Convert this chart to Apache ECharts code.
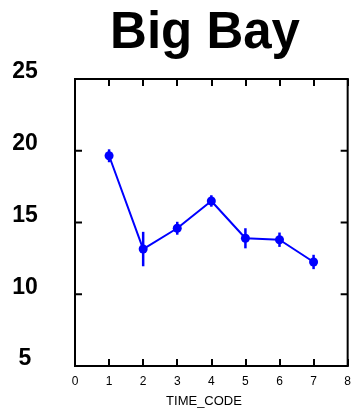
<!DOCTYPE html>
<html>
<head>
<meta charset="utf-8">
<script src="https://cdn.jsdelivr.net/npm/echarts@6/dist/echarts.min.js"></script>
<style>html,body{margin:0;padding:0;background:#fff;}#c{width:354px;height:409px;}</style>
</head>
<body>
<div id="c"></div>
<script>
var titleText = 'Big Bay';
var xName = 'TIME_CODE';
var timeCodes = [1, 2, 3, 4, 5, 6, 7];
var means = [19.65, 13.15, 14.6, 16.5, 13.9, 13.8, 12.25];
var errors = [0.45, 1.2, 0.45, 0.4, 0.7, 0.5, 0.5];
var xTicks = [0, 1, 2, 3, 4, 5, 6, 7, 8];
var yTicks = [5, 10, 15, 20, 25];

var lineData = timeCodes.map(function (t, i) { return [t, means[i]]; });
var errData = timeCodes.map(function (t, i) { return [t, means[i] - errors[i], means[i] + errors[i]]; });
var xMin = xTicks[0], xMax = xTicks[xTicks.length - 1];
var yMin = yTicks[0], yMax = yTicks[yTicks.length - 1];
var yInner = yTicks.slice(1, -1).map(function (v) { return [xMin, v]; });

var chart = echarts.init(document.getElementById('c'), null, { renderer: 'canvas' });
var FONT = 'Liberation Sans, Arial, sans-serif';
var blue = '#0000ff';
var TICK = 7;

chart.setOption({
  animation: false,
  backgroundColor: '#ffffff',
  grid: { left: 75, right: 5, top: 79, bottom: 43, show: true, borderColor: '#000', borderWidth: 2, backgroundColor: 'transparent' },
  graphic: [
    { type: 'text', x: 205, y: 34, style: { text: titleText, fontFamily: FONT, fontWeight: 'bold', fontSize: 51, fill: '#000', textAlign: 'center', textVerticalAlign: 'middle' } },
    { type: 'text', x: 204, y: 401, style: { text: xName, fontFamily: FONT, fontSize: 13, fill: '#000', textAlign: 'center', textVerticalAlign: 'middle' } }
  ],
  xAxis: [
    { type: 'value', min: xMin, max: xMax, interval: 1, position: 'bottom',
      axisLine: { show: true, lineStyle: { color: '#000', width: 2 } },
      axisTick: { show: true, inside: true, length: TICK, lineStyle: { color: '#000', width: 2 } },
      axisLabel: { show: true, margin: 10, fontFamily: FONT, fontSize: 12, color: '#000' },
      splitLine: { show: false } },
    { type: 'value', min: xMin, max: xMax, interval: 1, position: 'top',
      axisLine: { show: true, lineStyle: { color: '#000', width: 2 } },
      axisTick: { show: true, inside: true, length: TICK, lineStyle: { color: '#000', width: 2 } },
      axisLabel: { show: false }, splitLine: { show: false } }
  ],
  yAxis: [
    { type: 'value', min: yMin, max: yMax, interval: 5, position: 'left',
      axisLine: { show: true, lineStyle: { color: '#000', width: 2 } },
      axisTick: { show: false },
      axisLabel: { show: true, margin: 50, align: 'center', verticalAlign: 'bottom', lineHeight: 14, fontFamily: FONT, fontWeight: 'bold', fontSize: 23, color: '#000' },
      splitLine: { show: false } }
  ],
  series: [
    { type: 'custom', xAxisIndex: 0, yAxisIndex: 0, data: yInner, z: 2, silent: true,
      renderItem: function (params, api) {
        var v = api.value(1);
        var l = api.coord([xMin, v]);
        var r = api.coord([xMax, v]);
        return { type: 'group', children: [
          { type: 'line', shape: { x1: l[0], y1: l[1], x2: l[0] + TICK, y2: l[1] }, style: { stroke: '#000', lineWidth: 2 } },
          { type: 'line', shape: { x1: r[0], y1: r[1], x2: r[0] - TICK, y2: r[1] }, style: { stroke: '#000', lineWidth: 2 } }
        ] };
      } },
    { type: 'custom', xAxisIndex: 0, yAxisIndex: 0, data: errData, z: 3,
      renderItem: function (params, api) {
        var x = api.value(0);
        var lo = api.coord([x, api.value(1)]);
        var hi = api.coord([x, api.value(2)]);
        return { type: 'line', shape: { x1: lo[0], y1: lo[1], x2: hi[0], y2: hi[1] }, style: { stroke: blue, lineWidth: 2.5 } };
      } },
    { type: 'line', xAxisIndex: 0, yAxisIndex: 0, data: lineData, z: 4,
      symbol: 'circle', symbolSize: 9, showSymbol: true,
      lineStyle: { color: blue, width: 2 }, itemStyle: { color: blue } }
  ]
});
</script>
</body>
</html>
